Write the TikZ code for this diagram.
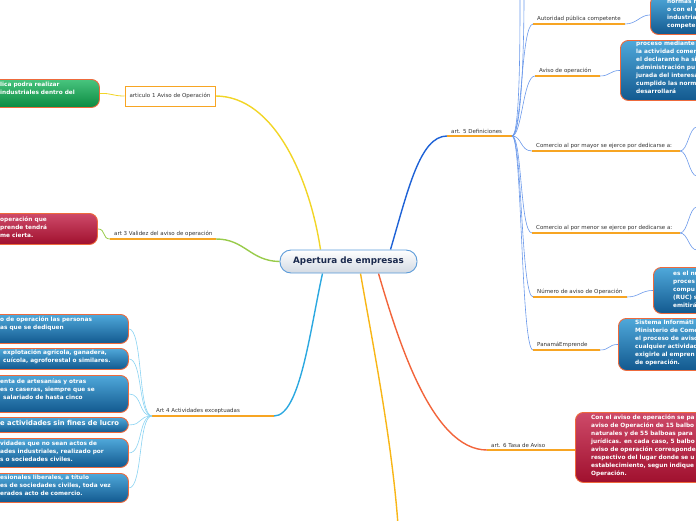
\documentclass[tikz,border=0pt]{standalone}
\usepackage{fontspec}
\setmainfont{DejaVu Sans}
\usetikzlibrary{calc,backgrounds}
\definecolor{boxborder}{HTML}{EE6A3C}
\definecolor{bluetop}{HTML}{4FA8DA}
\definecolor{bluebot}{HTML}{12598F}
\definecolor{greentop}{HTML}{48C47E}
\definecolor{greenbot}{HTML}{0B8A41}
\definecolor{redtop}{HTML}{CE4A69}
\definecolor{redbot}{HTML}{A0102E}
\definecolor{ulorange}{HTML}{F7A523}
\definecolor{cyellow}{HTML}{F2D526}
\definecolor{cgreen}{HTML}{98CB4A}
\definecolor{csky}{HTML}{2BA8E0}
\definecolor{cskythin}{HTML}{8AD3F2}
\definecolor{cblue}{HTML}{1E62D6}
\definecolor{cbluethin}{HTML}{6A98EA}
\definecolor{cred}{HTML}{F2643A}
\definecolor{cgold}{HTML}{F8B616}
\definecolor{navy}{HTML}{1B2A4E}
\definecolor{centerborder}{HTML}{5B9BD9}
\definecolor{centerbot}{HTML}{D3DAE3}
\definecolor{labtext}{HTML}{333333}
\tikzset{
  bx/.style={rounded corners=8pt, draw=boxborder, line width=0.9pt, anchor=north west, inner sep=0},
  bluebx/.style={bx, top color=bluetop, bottom color=bluebot},
  greenbx/.style={bx, top color=greentop, bottom color=greenbot},
  redbx/.style={bx, top color=redtop, bottom color=redbot},
  btxt/.style={font=\bfseries\fontsize{5.8}{8}\selectfont, text=white, align=left, anchor=north west, inner sep=0},
  lab/.style={font=\fontsize{5.5}{7}\selectfont, text=labtext, anchor=south west, inner xsep=4pt, inner ysep=2.5pt},
  ul/.style={draw=ulorange, line width=1.5pt},
  mainbr/.style={line width=1.4pt},
  sub/.style={line width=0.8pt},
  fan4/.style={draw=cskythin, line width=0.6pt},
  fan5/.style={draw=cbluethin, line width=0.6pt},
  cnode/.style={rounded corners=11pt, minimum width=137pt, minimum height=23pt, draw=centerborder,
    line width=0.9pt, top color=white, bottom color=centerbot, font=\bfseries\fontsize{8.8}{10}\selectfont,
    text=navy, inner sep=0}
}
\begin{document}
\begin{tikzpicture}[x=1pt,y=-1pt]
\useasboundingbox (0,0) rectangle (696,520);
% centre
\node[cnode] (c) at (348.5,261.5) {Apertura de empresas};

% ---------- left side ----------
\node[draw=ulorange, line width=1pt, fill=white, minimum width=90pt, minimum height=20pt, inner sep=0,
  font=\fontsize{5.5}{7}\selectfont, text=labtext] (l1) at (170,96) {articulo 1 Aviso de Operación};
\node[greenbx, minimum width=129pt, minimum height=28pt] (gbox) at (-30,79) {};
\node[btxt] (gtxt) at (0,82) {lica podra realizar\\industriales dentro del};

\node[lab] (l3) at (110,239) {art 3 Validez del aviso de operación};
\coordinate (l3e) at (216,239);
\node[redbx, minimum width=127pt, minimum height=31pt] (rbox) at (-30,213) {};
\node[btxt] (rtxt) at (0,217) {operación que\\prende tendrá\\me cierta.};

\node[lab] (l4) at (152,416) {Art 4 Actividades exceptuadas};
\coordinate (l4e) at (274,416);
\node[bluebx, minimum width=158pt, minimum height=29pt] (b1) at (-30,314) {};
\node[btxt] (b1t) at (0,317) {o de operación las personas\\as que se dediquen};
\node[bluebx, minimum width=158pt, minimum height=21pt] (b2) at (-30,348) {};
\node[btxt] (b2t) at (3,350) {explotación agrícola, ganadera,\\cuícola, agroforestal o similares.};
\node[bluebx, minimum width=158pt, minimum height=37pt] (b3) at (-30,375) {};
\node[btxt] (b3t) at (0,379) {enta de artesanías y otras\\es o caseras, siempre que se\\\hspace*{3pt}salariado de hasta cinco};
\node[bluebx, minimum width=158pt, minimum height=15pt] (b4) at (-30,417) {};
\node[btxt, font=\bfseries\fontsize{6.8}{8}\selectfont] (b4t) at (0,420) {e actividades sin fines de lucro};
\node[bluebx, minimum width=158pt, minimum height=29pt] (b5) at (-30,438) {};
\node[btxt] (b5t) at (0,441) {vidades que no sean actos de\\ades industriales, realizado por\\s o sociedades civiles.};
\node[bluebx, minimum width=158pt, minimum height=29pt] (b6) at (-30,473) {};
\node[btxt] (b6t) at (0,475) {esionales liberales, a título\\es de sociedades civiles, toda vez\\erados acto de comercio.};

% ---------- right side ----------
\node[lab] (l5) at (447,136) {art. 5 Definiciones};
\coordinate (l5e) at (512,136);
\node[lab] (la) at (533,24) {Autoridad pública competente};
\coordinate (lae) at (625,24);
\node[lab] (lv) at (535,76) {Aviso de operación};
\coordinate (lve) at (600,76);
\node[lab] (lmy) at (532,151) {Comercio al por mayor se ejerce por dedicarse a:};
\coordinate (lmye) at (680,151);
\node[lab] (lmn) at (532,233) {Comercio al por menor se ejerce por dedicarse a:};
\coordinate (lmne) at (680,233);
\node[lab] (ln) at (533,297) {Número de aviso de Operación};
\coordinate (lne) at (627,297);
\node[lab] (lp) at (533,350) {PanamáEmprende};
\coordinate (lpe) at (600,350);
\node[lab] (l6) at (487,450) {art. 6 Tasa de Aviso};
\coordinate (l6e) at (577,450);

\node[bluebx, minimum width=80pt, minimum height=39pt] (tbox) at (650,-5) {};
\node[btxt] (tboxt) at (667,0) {normas r\\o con el e\\industria\\compete};
\node[bluebx, minimum width=110pt, minimum height=60pt] (abox) at (620,40) {};
\node[btxt] (aboxt) at (636,41) {proceso mediante\\la actividad comer\\el declarante ha si\\administración pu\\jurada del interesa\\cumplido las norm\\desarrollará};
\node[bluebx, minimum width=77pt, minimum height=46pt] (nbox) at (653,267) {};
\node[btxt] (nboxt) at (673,271) {es el nu\\proces\\compu\\(RUC) s\\emitirá};
\node[bluebx, minimum width=112pt, minimum height=52pt] (pbox) at (618,318) {};
\node[btxt] (pboxt) at (635,320) {Sistema Informáti\\Ministerio de Come\\el proceso de aviso\\cualquier actividad\\exigirle al empren\\de operación.};
\node[redbx, minimum width=155pt, minimum height=70pt] (rb6) at (575,412) {};
\node[btxt] (rb6t) at (591,415) {Con el aviso de operación se pa\\aviso de Operación de 15 balbo\\naturales y de 55 balboas para\\jurídicas. en cada caso, 5 balbo\\aviso de operación corresponde\\respectivo del lugar donde se u\\establecimiento, segun indique\\Operación.};

\coordinate (up1) at (520,-2);
\coordinate (up2) at (524,-2);
\coordinate (my1) at (697,127);
\coordinate (my2) at (697,176);
\coordinate (mn1) at (697,207);
\coordinate (mn2) at (697,250);
\coordinate (goldend) at (398,525);

\begin{scope}[on background layer]
  % main branches
  \draw[cyellow, mainbr] ($(c.north)+(-28,0)$) .. controls (310,180) and (275,96) .. (l1.east);
  \draw[cgreen, mainbr] (c.west) .. controls (250,261) and (245,239) .. (l3e);
  \draw[csky, mainbr] ($(c.south)+(-26,0)$) .. controls (310,330) and (300,416) .. (l4e);
  \draw[cgold, mainbr] ($(c.south)+(12,0)$) .. controls (372,340) and (392,440) .. (goldend);
  \draw[cblue, mainbr] ($(c.north)+(42,0)$) .. controls (408,190) and (420,136) .. (l5.south west);
  \draw[cred, mainbr] ($(c.south)+(30,0)$) .. controls (398,340) and (432,450) .. (l6.south west);
  % underlines
  \draw[ul] (l3.south west) -- (l3e);
  \draw[ul] (l4.south west) -- (l4e);
  \draw[ul] (l5.south west) -- (l5e);
  \draw[ul] (la.south west) -- (lae);
  \draw[ul] (lv.south west) -- (lve);
  \draw[ul] (lmy.south west) -- (lmye);
  \draw[ul] (lmn.south west) -- (lmne);
  \draw[ul] (ln.south west) -- (lne);
  \draw[ul] (lp.south west) -- (lpe);
  \draw[ul] (l6.south west) -- (l6e);
  % secondary
  \draw[cyellow, sub] (l1.west) .. controls (112,96) and (112,93) .. (gbox.east);
  \draw[cgreen, sub] (l3.south west) .. controls (102,239) and (106,229) .. (rbox.east);
  \foreach \b in {b1,b2,b3,b4,b5,b6}
    \draw[fan4] (l4.south west) .. controls +(-14,0) and +(14,0) .. (\b.east);
  \foreach \t in {la,lv,lmy,lmn,ln,lp}
    \draw[fan5] (l5e) .. controls +(10,0) and +(-12,0) .. (\t.south west);
  \draw[fan5] (l5e) .. controls +(8,0) and +(0,40) .. (up1);
  \draw[fan5] (l5e) .. controls +(10,0) and +(0,40) .. (up2);
  \draw[fan5] (lmye) .. controls +(8,0) and +(-8,0) .. (my1);
  \draw[fan5] (lmye) .. controls +(8,0) and +(-8,0) .. (my2);
  \draw[fan5] (lmne) .. controls +(8,0) and +(-8,0) .. (mn1);
  \draw[fan5] (lmne) .. controls +(8,0) and +(-8,0) .. (mn2);
  \draw[fan5] (lae) .. controls +(12,0) and +(-10,0) .. (tbox.west);
  \draw[fan5] (lve) .. controls +(10,0) and +(-10,0) .. (abox.west);
  \draw[fan5] (lne) .. controls +(12,0) and +(-12,0) .. (nbox.west);
  \draw[fan5] (lpe) .. controls +(10,0) and +(-10,0) .. (pbox.west);
\end{scope}
\end{tikzpicture}
\end{document}
